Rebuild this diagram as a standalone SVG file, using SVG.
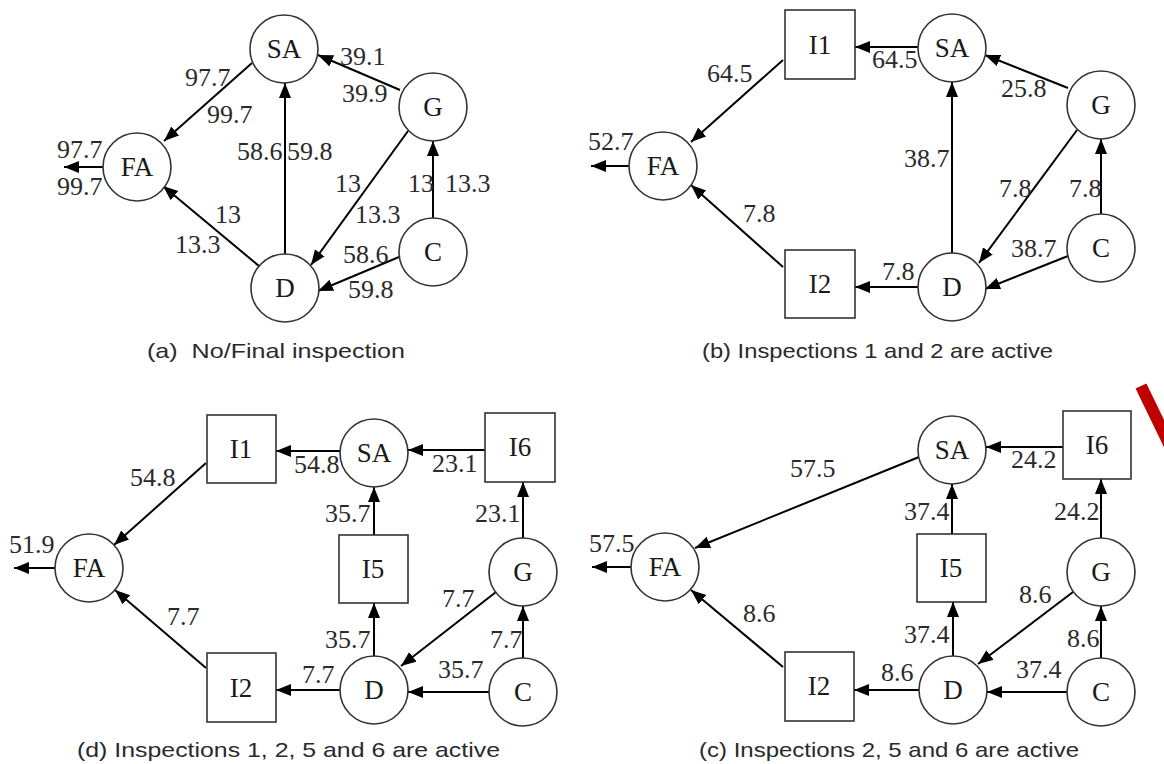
<svg xmlns="http://www.w3.org/2000/svg" width="1164" height="764" viewBox="0 0 1164 764">
<defs>
<marker id="ah" markerUnits="userSpaceOnUse" markerWidth="16" markerHeight="13" refX="15" refY="6" orient="auto">
<path d="M0,0 L15,6 L0,12 z" fill="#000"/>
</marker>
<style>
.n{fill:#fff;stroke:#333;stroke-width:1.6}
.nt{font-family:"Liberation Serif","Times New Roman",serif;font-size:27px;fill:#1a1a1a;text-anchor:middle}
.e{stroke:#000;stroke-width:2;fill:none;marker-end:url(#ah)}
.l{font-family:"Liberation Serif","Times New Roman",serif;font-size:26px;fill:#2a2a2a}
.cap{font-family:"Liberation Sans",Arial,sans-serif;font-size:21px;fill:#2a2a2a}
</style>
</defs>
<rect width="1164" height="764" fill="#fff"/>

<g id="connectors">
<!-- (a) -->
<line class="e" x1="252" y1="63" x2="164" y2="141"/>
<line class="e" x1="103" y1="167" x2="64" y2="167"/>
<line class="e" x1="285" y1="254" x2="285" y2="83"/>
<line class="e" x1="400" y1="90" x2="318" y2="55"/>
<line class="e" x1="408" y1="131" x2="311" y2="265"/>
<line class="e" x1="433" y1="218" x2="433" y2="141"/>
<line class="e" x1="399" y1="257" x2="318" y2="291"/>
<line class="e" x1="259" y1="266" x2="163" y2="186"/>
<!-- (b) -->
<line class="e" x1="918" y1="47" x2="855" y2="47"/>
<line class="e" x1="783" y1="60" x2="691" y2="142"/>
<line class="e" x1="629" y1="166" x2="591" y2="166"/>
<line class="e" x1="1068" y1="88" x2="985" y2="55"/>
<line class="e" x1="952" y1="253" x2="952" y2="82"/>
<line class="e" x1="1077" y1="130" x2="979" y2="263"/>
<line class="e" x1="1101" y1="214" x2="1101" y2="139"/>
<line class="e" x1="1068" y1="256" x2="985" y2="289"/>
<line class="e" x1="918" y1="287" x2="855" y2="287"/>
<line class="e" x1="783" y1="267" x2="691" y2="185"/>
<!-- (d) -->
<line class="e" x1="55" y1="568" x2="14" y2="568"/>
<line class="e" x1="206" y1="463" x2="114" y2="545"/>
<line class="e" x1="340" y1="451" x2="276" y2="451"/>
<line class="e" x1="485" y1="450" x2="408" y2="450"/>
<line class="e" x1="374" y1="535" x2="374" y2="487"/>
<line class="e" x1="523" y1="538" x2="523" y2="482"/>
<line class="e" x1="374" y1="656" x2="374" y2="603"/>
<line class="e" x1="496" y1="592" x2="401" y2="666"/>
<line class="e" x1="523" y1="658" x2="523" y2="606"/>
<line class="e" x1="489" y1="692" x2="408" y2="692"/>
<line class="e" x1="340" y1="690" x2="276" y2="690"/>
<line class="e" x1="206" y1="668" x2="115" y2="590"/>
<!-- (c) -->
<line class="e" x1="631" y1="567" x2="592" y2="567"/>
<line class="e" x1="919" y1="457" x2="695" y2="548"/>
<line class="e" x1="1063" y1="447" x2="986" y2="447"/>
<line class="e" x1="952" y1="534" x2="952" y2="484"/>
<line class="e" x1="1101" y1="538" x2="1101" y2="479"/>
<line class="e" x1="953" y1="656" x2="953" y2="602"/>
<line class="e" x1="1073" y1="592" x2="978" y2="664"/>
<line class="e" x1="1101" y1="658" x2="1101" y2="606"/>
<line class="e" x1="1067" y1="692" x2="987" y2="692"/>
<line class="e" x1="919" y1="690" x2="854" y2="690"/>
<line class="e" x1="783" y1="667" x2="691" y2="590"/>
</g>

<g id="edge-labels">
<!-- (a) -->
<text class="l" x="185" y="86">97.7</text>
<text class="l" x="207" y="123">99.7</text>
<text class="l" x="340" y="65">39.1</text>
<text class="l" x="342" y="102">39.9</text>
<text class="l" x="237" y="160">58.6</text>
<text class="l" x="287" y="160">59.8</text>
<text class="l" x="57" y="158">97.7</text>
<text class="l" x="57" y="195">99.7</text>
<text class="l" x="335" y="192">13</text>
<text class="l" x="355" y="223">13.3</text>
<text class="l" x="408" y="192">13</text>
<text class="l" x="445" y="192">13.3</text>
<text class="l" x="215" y="223">13</text>
<text class="l" x="175" y="253">13.3</text>
<text class="l" x="343" y="263">58.6</text>
<text class="l" x="348" y="298">59.8</text>
<!-- (b) -->
<text class="l" x="588" y="150">52.7</text>
<text class="l" x="707" y="82">64.5</text>
<text class="l" x="872" y="68">64.5</text>
<text class="l" x="1001" y="97">25.8</text>
<text class="l" x="904" y="167">38.7</text>
<text class="l" x="999" y="197">7.8</text>
<text class="l" x="1069" y="197">7.8</text>
<text class="l" x="1011" y="257">38.7</text>
<text class="l" x="882" y="280">7.8</text>
<text class="l" x="743" y="222">7.8</text>
<!-- (d) -->
<text class="l" x="9" y="553">51.9</text>
<text class="l" x="130" y="486">54.8</text>
<text class="l" x="294" y="473">54.8</text>
<text class="l" x="432" y="472">23.1</text>
<text class="l" x="325" y="522">35.7</text>
<text class="l" x="475" y="522">23.1</text>
<text class="l" x="442" y="607">7.7</text>
<text class="l" x="325" y="648">35.7</text>
<text class="l" x="490" y="648">7.7</text>
<text class="l" x="438" y="678">35.7</text>
<text class="l" x="302" y="683">7.7</text>
<text class="l" x="167" y="625">7.7</text>
<!-- (c) -->
<text class="l" x="589" y="552">57.5</text>
<text class="l" x="790" y="477">57.5</text>
<text class="l" x="1011" y="468">24.2</text>
<text class="l" x="904" y="520">37.4</text>
<text class="l" x="1054" y="520">24.2</text>
<text class="l" x="1019" y="603">8.6</text>
<text class="l" x="904" y="643">37.4</text>
<text class="l" x="1067" y="647">8.6</text>
<text class="l" x="1016" y="678">37.4</text>
<text class="l" x="881" y="681">8.6</text>
<text class="l" x="743" y="622">8.6</text>
</g>

<!-- Panel (a) nodes -->
<g id="a-FA"><circle class="n" cx="137" cy="167" r="34"/><text class="nt" x="137" y="176">FA</text></g>
<g id="a-SA"><circle class="n" cx="284" cy="49" r="34"/><text class="nt" x="284" y="58">SA</text></g>
<g id="a-G"><circle class="n" cx="433" cy="107" r="34"/><text class="nt" x="433" y="116">G</text></g>
<g id="a-C"><circle class="n" cx="433" cy="252" r="34"/><text class="nt" x="433" y="261">C</text></g>
<g id="a-D"><circle class="n" cx="285" cy="288" r="34"/><text class="nt" x="285" y="297">D</text></g>

<!-- Panel (b) nodes -->
<g id="b-FA"><circle class="n" cx="663" cy="166" r="34"/><text class="nt" x="663" y="175">FA</text></g>
<g id="b-I1"><rect class="n" x="785" y="10" width="70" height="69"/><text class="nt" x="820" y="54">I1</text></g>
<g id="b-SA"><circle class="n" cx="952" cy="48" r="34"/><text class="nt" x="952" y="57">SA</text></g>
<g id="b-G"><circle class="n" cx="1101" cy="105" r="34"/><text class="nt" x="1101" y="114">G</text></g>
<g id="b-C"><circle class="n" cx="1101" cy="248" r="34"/><text class="nt" x="1101" y="257">C</text></g>
<g id="b-D"><circle class="n" cx="952" cy="287" r="34"/><text class="nt" x="952" y="296">D</text></g>
<g id="b-I2"><rect class="n" x="785" y="250" width="70" height="68"/><text class="nt" x="820" y="293">I2</text></g>

<!-- Panel (d) nodes -->
<g id="d-FA"><circle class="n" cx="89" cy="568" r="34"/><text class="nt" x="89" y="577">FA</text></g>
<g id="d-I1"><rect class="n" x="207" y="415" width="69" height="68"/><text class="nt" x="241" y="458">I1</text></g>
<g id="d-SA"><circle class="n" cx="374" cy="453" r="34"/><text class="nt" x="374" y="462">SA</text></g>
<g id="d-I6"><rect class="n" x="485" y="413" width="70" height="69"/><text class="nt" x="520" y="456">I6</text></g>
<g id="d-I5"><rect class="n" x="339" y="535" width="69" height="68"/><text class="nt" x="373" y="578">I5</text></g>
<g id="d-G"><circle class="n" cx="523" cy="572" r="34"/><text class="nt" x="523" y="581">G</text></g>
<g id="d-C"><circle class="n" cx="523" cy="692" r="34"/><text class="nt" x="523" y="701">C</text></g>
<g id="d-D"><circle class="n" cx="374" cy="690" r="34"/><text class="nt" x="374" y="699">D</text></g>
<g id="d-I2"><rect class="n" x="207" y="653" width="69" height="69"/><text class="nt" x="241" y="697">I2</text></g>

<!-- Panel (c) nodes -->
<g id="c-FA"><circle class="n" cx="665" cy="567" r="34"/><text class="nt" x="665" y="576">FA</text></g>
<g id="c-SA"><circle class="n" cx="952" cy="450" r="34"/><text class="nt" x="952" y="459">SA</text></g>
<g id="c-I6"><rect class="n" x="1063" y="411" width="68" height="68"/><text class="nt" x="1097" y="454">I6</text></g>
<g id="c-I5"><rect class="n" x="917" y="534" width="69" height="68"/><text class="nt" x="951" y="577">I5</text></g>
<g id="c-G"><circle class="n" cx="1101" cy="572" r="34"/><text class="nt" x="1101" y="581">G</text></g>
<g id="c-C"><circle class="n" cx="1101" cy="692" r="34"/><text class="nt" x="1101" y="701">C</text></g>
<g id="c-D"><circle class="n" cx="953" cy="690" r="34"/><text class="nt" x="953" y="699">D</text></g>
<g id="c-I2"><rect class="n" x="785" y="652" width="69" height="69"/><text class="nt" x="819" y="695">I2</text></g>

<g id="captions">
<text class="cap" x="147" y="358" textLength="258" lengthAdjust="spacingAndGlyphs" xml:space="preserve">(a)  No/Final inspection</text>
<text class="cap" x="702" y="358" textLength="351" lengthAdjust="spacingAndGlyphs">(b) Inspections 1 and 2 are active</text>
<text class="cap" x="77" y="757" textLength="423" lengthAdjust="spacingAndGlyphs">(d) Inspections 1, 2, 5 and 6 are active</text>
<text class="cap" x="699" y="757" textLength="380" lengthAdjust="spacingAndGlyphs">(c) Inspections 2, 5 and 6 are active</text>
</g>

<line id="red-mark" x1="1141" y1="386" x2="1173" y2="452" stroke="#c00000" stroke-width="12"/>
</svg>
